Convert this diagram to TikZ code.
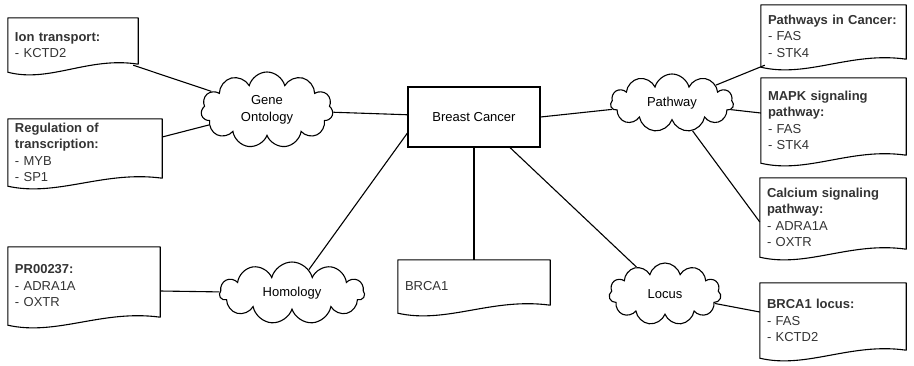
\documentclass[tikz,border=0pt]{standalone}
\usepackage{fontspec}
\setmainfont{Liberation Sans}
\usetikzlibrary{shapes.symbols,calc}
\definecolor{doctext}{HTML}{333333}

% wavy-bottomed document outline around a named doc node
\newcommand\docoutline[1]{%
  \draw[outline] (#1.north west) -- (#1.north east) -- ([yshift=8pt]#1.south east)
    .. controls ($(#1.south west)!0.62!(#1.south east)+(0,16pt)$)
           and ($(#1.south west)!0.32!(#1.south east)+(0,-11pt)$) .. (#1.south west) -- cycle;}

\begin{document}
\begin{tikzpicture}[x=1pt,y=1pt,
  every node/.style={font=\fontsize{13}{16.5}\selectfont},
  link/.style={draw=black,line width=1.1pt},
  outline/.style={draw=black,line width=1.1pt,line join=round},
  doc/.style n args={3}{rectangle,minimum width=#1,text width=#2,minimum height=#3,
    inner xsep=7pt,inner ysep=0pt,align=left,text=doctext},
  topic/.style={cloud,cloud puffs=11,cloud puff arc=150,cloud ignores aspect,draw,
    line width=1.1pt,fill=white,align=center,inner sep=0pt},
  hub/.style={rectangle,draw,line width=1.1pt,minimum width=132pt,minimum height=60pt}
]
\useasboundingbox (0,0) rectangle (914,-365);

% central concept
\node[hub] (bc) at (474,-117) {Breast Cancer};

% annotation categories
\node[topic,minimum width=132pt,minimum height=76pt] (go) at (267,-110) {Gene\\Ontology};
\node[topic,minimum width=145pt,minimum height=62pt] (hom) at (292,-293) {Homology};
\node[topic,minimum width=123pt,minimum height=58pt] (pw) at (672,-103) {Pathway};
\node[topic,minimum width=112pt,minimum height=62pt] (loc) at (665,-294) {Locus};

% documents
\node[doc={130pt}{116pt}{54pt}] (ion) at (73,-45) {\textbf{Ion transport:}\\- KCTD2};
\node[doc={154pt}{140pt}{67pt}] (reg) at (85,-152.5) {\textbf{Regulation of}\\\textbf{transcription:}\\- MYB\\- SP1};
\node[doc={152pt}{138pt}{78pt}] (pr) at (84,-286) {\textbf{PR00237:}\\- ADRA1A\\- OXTR};
\node[doc={152pt}{138pt}{53pt}] (brca) at (474,-286.5) {BRCA1};
\node[doc={145pt}{131pt}{62pt}] (pic) at (833.5,-36) {\textbf{Pathways in Cancer:}\\- FAS\\- STK4};
\node[doc={145pt}{131pt}{85pt}] (mapk) at (833.5,-120.5) {\textbf{MAPK signaling}\\\textbf{pathway:}\\- FAS\\- STK4};
\node[doc={146pt}{132pt}{79pt}] (cal) at (833,-217.5) {\textbf{Calcium signaling}\\\textbf{pathway:}\\- ADRA1A\\- OXTR};
\node[doc={146pt}{132pt}{75pt}] (lcd) at (833,-320.5) {\textbf{BRCA1 locus:}\\- FAS\\- KCTD2};

\foreach \d in {ion,reg,pr,brca,pic,mapk,cal,lcd} {\docoutline{\d}}

% connectors
\draw[link] ([xshift=-5pt,yshift=7pt]ion.south east) -- (go);
\draw[link] ([yshift=15.5pt]reg.east) -- (go);
\draw[link] (go) -- (bc);
\draw[link] ([yshift=-5pt]pr.east) -- (hom);
\draw[link] ([yshift=-16pt]bc.west) -- (hom);
\draw[link] (bc) -- (brca);
\draw[link] ([xshift=36pt]bc.south) -- (loc);
\draw[link] (bc.east) -- (pw);
\draw[link] (pw) -- ([xshift=4pt,yshift=2pt]pic.south west);
\draw[link] (pw) -- ([yshift=7.5pt]mapk.west);
\draw[link] (pw) -- ([yshift=-4.5pt]cal.west);
\draw[link] (loc) -- ([yshift=8.5pt]lcd.west);
\end{tikzpicture}
\end{document}
